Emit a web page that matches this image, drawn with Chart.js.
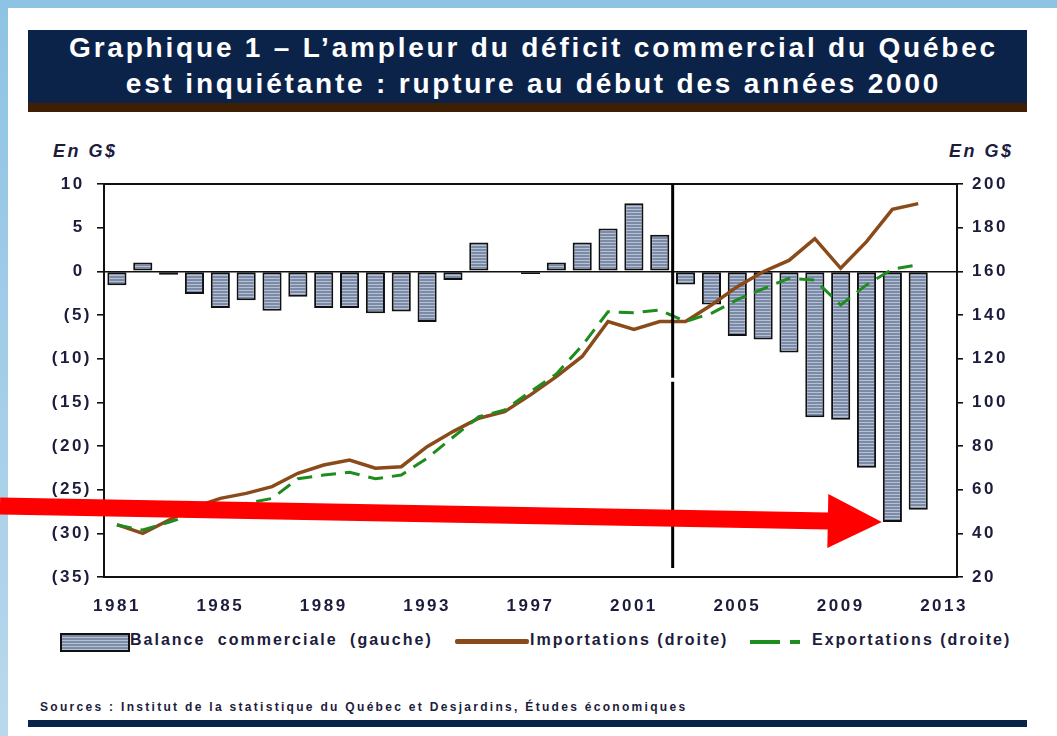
<!DOCTYPE html>
<html><head><meta charset="utf-8">
<script src="https://cdn.jsdelivr.net/npm/chart.js@4"></script>
<style>
html,body{margin:0;padding:0;background:#fff;width:1057px;height:736px;overflow:hidden;font-family:"Liberation Sans",Arial,sans-serif;}
#leftstrip{position:absolute;left:0;top:0;width:8px;height:736px;background:linear-gradient(#8ec3e3,#b9d8ec);}
#topstrip{position:absolute;left:0;top:0;width:1057px;height:8px;background:#8ec3e3;}
#banner{position:absolute;left:28px;top:30px;width:987px;padding-left:12px;height:73px;background:#0b2249;color:#fff;font-weight:bold;font-size:28px;line-height:36px;text-align:center;letter-spacing:2.8px;white-space:nowrap;}
#bannerBrown{position:absolute;left:28px;top:103px;width:999px;height:9px;background:#3e1f04;}
#bottomBar{position:absolute;left:28px;top:720px;width:999px;height:7px;background:#0b2249;}
.unit{position:absolute;top:141px;font-weight:bold;font-style:italic;font-size:18px;color:#1c1c3c;letter-spacing:2.5px;white-space:nowrap;}
.lg{position:absolute;top:631px;font-weight:bold;font-size:16px;color:#1c1c3c;letter-spacing:2px;white-space:nowrap;}
#src{position:absolute;left:40px;top:700px;font-weight:bold;font-size:12px;color:#1c1c3c;letter-spacing:2.3px;white-space:nowrap;}
canvas{position:absolute;left:0;top:0;z-index:5;}
</style></head>
<body>
<div id="topstrip"></div>
<div id="leftstrip"></div>
<div id="banner">Graphique 1 – L’ampleur du déficit commercial du Québec<br>est inquiétante : rupture au début des années 2000</div>
<div id="bannerBrown"></div>
<div class="unit" style="left:53px">En G$</div>
<div class="unit" style="left:949px">En G$</div>
<div style="position:absolute;left:60px;top:633px;width:66px;height:15px;border:2px solid #111;background:repeating-linear-gradient(#7d8ca6 0 2px,#b6c1d1 2px 3px);"></div>
<div class="lg" style="left:130px;word-spacing:6px">Balance commerciale (gauche)</div>
<div style="position:absolute;left:455px;top:639px;width:74px;height:5px;background:#8b4a1a;border-radius:2px;"></div>
<div class="lg" style="left:530px">Importations (droite)</div>
<div style="position:absolute;left:750px;top:640px;width:30px;height:4px;background:#1e8c1e;"></div>
<div style="position:absolute;left:790px;top:640px;width:10px;height:4px;background:#1e8c1e;"></div>
<div class="lg" style="left:812px">Exportations (droite)</div>
<div id="src">Sources : Institut de la statistique du Québec et Desjardins, Études économiques</div>
<div id="bottomBar"></div>
<canvas id="c" width="1057" height="736"></canvas>
<script>
const years = ['1981','1982','1983','1984','1985','1986','1987','1988','1989','1990','1991','1992','1993','1994','1995','1996','1997','1998','1999','2000','2001','2002','2003','2004','2005','2006','2007','2008','2009','2010','2011','2012','2013'];
const tickLabels = ['1981','1985','1989','1993','1997','2001','2005','2009','2013'];
const balance = [-1.6,1.0,-0.4,-2.6,-4.2,-3.3,-4.5,-2.9,-4.2,-4.2,-4.8,-4.6,-5.8,-1.0,3.3,0,-0.3,1.0,3.3,4.9,7.8,4.2,-1.5,-3.8,-7.4,-7.8,-9.3,-16.7,-17.0,-22.5,-28.7,-27.3,null];
const imports = [44,40,46,52,56,58.3,61.4,67.5,71.3,73.6,69.8,70.5,79.7,86.6,92.7,95.7,103.4,111.8,121,137,133.4,137,137,144.6,153,159.8,165,175,161.4,173.6,188.4,191,null];
const exportsData = [43.8,41.5,45,49,53,53.7,56,65,66.7,68,65,66.7,74.4,84,93.4,96.5,104.9,113,126,141.5,141,142.3,137,140.8,147,152,156.8,156,144.6,153.8,161,163,null];
const leftTicksMin = -35, leftTicksMax = 10, rightTicksMin = 20, rightTicksMax = 200;

// striped bar pattern
const pc = document.createElement('canvas'); pc.width = 4; pc.height = 3;
const pctx = pc.getContext('2d');
pctx.fillStyle = '#7b8ba7'; pctx.fillRect(0,0,4,2);
pctx.fillStyle = '#b6c1d3'; pctx.fillRect(0,2,4,1);
const ctx0 = document.getElementById('c').getContext('2d');
const stripe = ctx0.createPattern(pc, 'repeat');

const tickFont = {family:'"Liberation Sans", Arial, sans-serif', size:17, weight:'bold'};
const tickColor = '#1c1c3c';

const decor = {
  id:'decor',
  beforeUpdate(chart){ chart.ctx.letterSpacing = '2.5px'; },
  beforeDraw(chart){ chart.ctx.letterSpacing = '2.5px'; },
  afterDatasetsDraw(chart){
    const {ctx, chartArea:a, scales} = chart;
    ctx.save();
    ctx.strokeStyle = '#111'; ctx.lineWidth = 2;
    ctx.beginPath(); ctx.moveTo(a.left, a.top); ctx.lineTo(a.right, a.top); ctx.stroke();
    const xs = scales.x; const i = years.indexOf('2002');
    const dx = (xs.getPixelForValue(i) + xs.getPixelForValue(i+1)) / 2;
    const gapY = scales.yL.getPixelForValue(-12.4);
    ctx.strokeStyle = '#000'; ctx.lineWidth = 3;
    ctx.beginPath();
    ctx.moveTo(dx, a.top); ctx.lineTo(dx, gapY - 2);
    ctx.moveTo(dx, gapY + 2); ctx.lineTo(dx, a.bottom - 9);
    ctx.stroke();
    ctx.restore();
  },
  afterDraw(chart){
    const {ctx} = chart;
    const el = chart.getDatasetMeta(2).data[years.indexOf('2011')];
    const tx = el.x - el.width/2 - 1, ty = el.y;
    const sx = 0, sy = ty - 16;
    const len = Math.hypot(tx - sx, ty - sy);
    const ux = (tx - sx)/len, uy = (ty - sy)/len;
    const nx = -uy, ny = ux;
    const headLen = 54, headHalf = 27, shaftHalf = 8.5;
    const bx = tx - ux*headLen, by = ty - uy*headLen;
    ctx.save();
    ctx.fillStyle = '#ff0000';
    ctx.beginPath();
    ctx.moveTo(sx + nx*shaftHalf, sy + ny*shaftHalf);
    ctx.lineTo(bx + nx*shaftHalf, by + ny*shaftHalf);
    ctx.lineTo(bx + nx*headHalf, by + ny*headHalf);
    ctx.lineTo(tx, ty);
    ctx.lineTo(bx - nx*headHalf, by - ny*headHalf);
    ctx.lineTo(bx - nx*shaftHalf, by - ny*shaftHalf);
    ctx.lineTo(sx - nx*shaftHalf, sy - ny*shaftHalf);
    ctx.closePath();
    ctx.fill();
    ctx.restore();
  }
};

new Chart(ctx0, {
  type:'bar',
  data:{
    labels: years,
    datasets:[
      {type:'line', label:'Exportations (droite)', data:exportsData, yAxisID:'yR', borderColor:'#1e8c1e', borderWidth:3, borderDash:[15,9], pointRadius:0, fill:false, order:1},
      {type:'line', label:'Importations (droite)', data:imports, yAxisID:'yR', borderColor:'#8b4a1a', borderWidth:3.5, pointRadius:0, fill:false, order:2},
      {type:'bar', label:'Balance commerciale (gauche)', data:balance, yAxisID:'yL', backgroundColor:stripe, borderColor:'#111', borderWidth:2, borderSkipped:false, barPercentage:0.74, categoryPercentage:1, order:3}
    ]
  },
  options:{
    responsive:false, animation:false,
    layout:{padding:{left:30, right:17, top:184, bottom:121}},
    plugins:{legend:{display:false}, tooltip:{enabled:false}},
    scales:{
      x:{
        grid:{display:false},
        border:{display:true, color:'#111', width:2},
        ticks:{autoSkip:false, maxRotation:0, minRotation:0, padding:11, color:tickColor, font:tickFont,
          callback(v, i){ const l = years[i]; return tickLabels.includes(l) ? l : ''; }},
        afterFit(s){ s.height = 38; }
      },
      yL:{
        position:'left', min:leftTicksMin, max:leftTicksMax,
        ticks:{stepSize:5, padding:5, color:tickColor, font:tickFont,
          callback(v){ return v < 0 ? '(' + (-v) + ')' : String(v) + ' '; }},
        grid:{color(c){ return (c.tick && c.tick.value === 0) ? '#111' : 'rgba(0,0,0,0)'; }, tickColor:'#111', tickLength:7, lineWidth:1.6},
        border:{color:'#111', width:2},
        afterFit(s){ s.width = 74; }
      },
      yR:{
        position:'right', min:rightTicksMin, max:rightTicksMax,
        ticks:{stepSize:20, padding:9, color:tickColor, font:tickFont},
        grid:{drawOnChartArea:false, tickColor:'#111', tickLength:6, lineWidth:1.6},
        border:{color:'#111', width:2},
        afterFit(s){ s.width = 83; }
      }
    }
  },
  plugins:[decor]
});
</script>
</body></html>
